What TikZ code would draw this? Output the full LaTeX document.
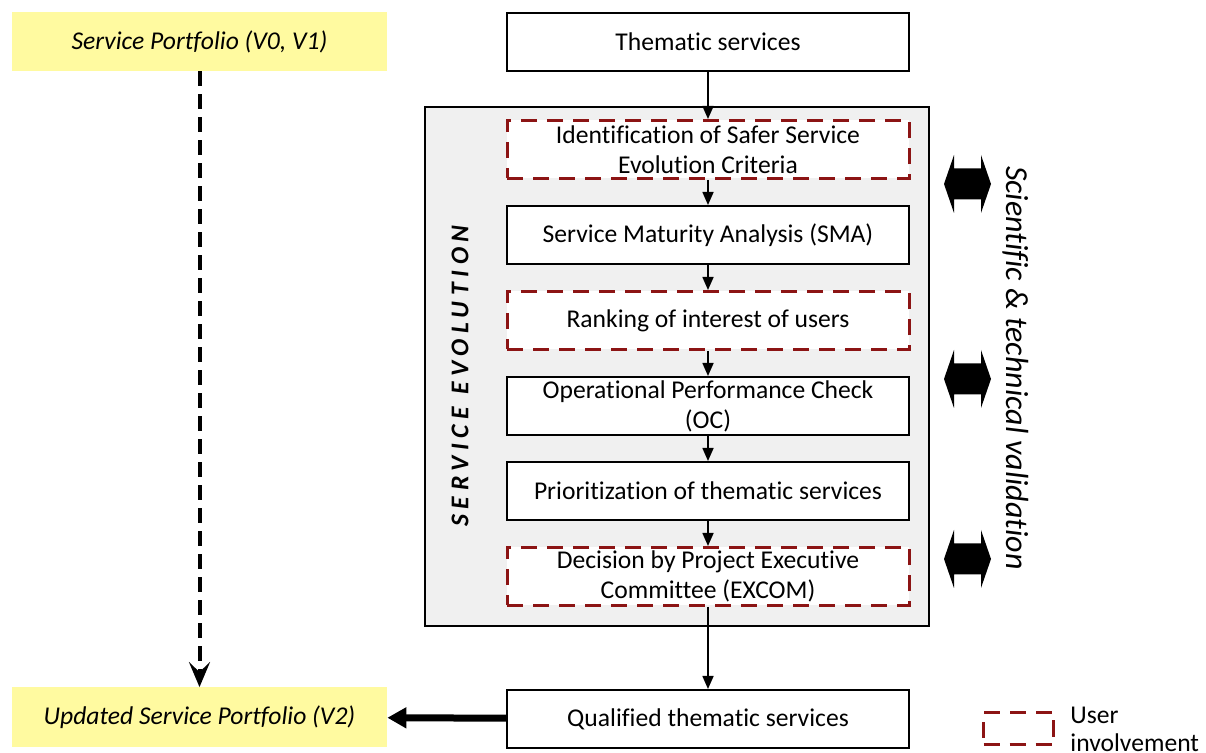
\documentclass[tikz,border=0pt]{standalone}
\usepackage{fontspec}
\setmainfont{Carlito}[Ligatures={NoCommon,NoContextual}, RawFeature={-liga;-clig}]
\usetikzlibrary{positioning,arrows.meta}
\definecolor{userred}{RGB}{140,20,20}
\definecolor{portyellow}{RGB}{255,250,160}
\definecolor{evogray}{RGB}{240,240,240}
\begin{document}
\begin{tikzpicture}[x=0.5pt,y=-0.5pt,
font=\fontsize{12.8}{15}\selectfont,
stage/.style={rectangle, draw=black, fill=white, line width=1pt, minimum width=201pt, minimum height=29pt, inner sep=0pt, align=center},
userstage/.style={stage, draw=userred, line width=1.5pt, dash pattern=on 8pt off 5pt},
portfolio/.style={rectangle, fill=portyellow, minimum width=187.5pt, minimum height=29.5pt, font=\fontsize{12.8}{15}\selectfont\itshape},
flow/.style={-{Triangle[length=6.5pt,width=5.5pt]}, line width=0.8pt},
node distance=12.5pt
]
\useasboundingbox (0,0) rectangle (1206,753);

% service evolution frame
\draw[fill=evogray, line width=0.6pt] (425,107) rectangle (929,626);
\node[rotate=90, font=\fontsize{12.8}{15}\selectfont\bfseries\itshape\addfontfeature{LetterSpace=22}] (evolabel) at (460,376) {SERVICE\hspace{6pt}EVOLUTION};

% main chain
\node[stage] (thematic) at (708,42) {Thematic services};
\node[userstage, below=23.5pt of thematic] (ident) {Identification of Safer Service\\Evolution Criteria};
\node[stage, below=of ident] (sma) {Service Maturity Analysis (SMA)};
\node[userstage, below=of sma] (ranking) {Ranking of interest of users};
\node[stage, below=of ranking] (oc) {Operational Performance Check\\(OC)};
\node[stage, below=of oc] (prio) {Prioritization of thematic services};
\node[userstage, below=of prio] (excom) {Decision by Project Executive\\Committee (EXCOM)};
\node[stage, below=41pt of excom] (qualified) {Qualified thematic services};

\foreach \a/\b in {thematic/ident, ident/sma, sma/ranking, ranking/oc, oc/prio, prio/excom, excom/qualified}
    \draw[flow] (\a) -- (\b);

% portfolio versions
\node[portfolio] (portfolio) at (199.5,41.5) {Service Portfolio (V0, V1)};
\node[portfolio] (updated) at (199.5,717) {Updated Service Portfolio (V2)};
\draw[line width=2pt, dash pattern=on 7.5pt off 4pt, -{Stealth[length=12.5pt,width=10.5pt,inset=5pt]}] (portfolio) -- (updated);
\draw[line width=3.5pt, -{Triangle[length=9.5pt,width=10pt]}] (qualified) -- (updated);

% validation
\foreach \yy in {184,379,559}
    \fill (944,\yy) -- (954,\yy-29) -- (954,\yy-15.5) -- (981,\yy-15.5) -- (981,\yy-29) -- (991,\yy)
        -- (981,\yy+29) -- (981,\yy+15.5) -- (954,\yy+15.5) -- (954,\yy+29) -- cycle;
\node[rotate=-90, font=\fontsize{16}{19}\selectfont\itshape] (validation) at (1016,368) {Scientific \& technical validation};

% legend
\node[userstage, minimum width=35pt, minimum height=16pt] (legendbox) at (1018.5,728.5) {};
\node[anchor=north west, align=left, inner sep=0pt, font=\fontsize{12.8}{14}\selectfont] (legendtext) at (1070,706.5) {User\\involvement};
\end{tikzpicture}
\end{document}
